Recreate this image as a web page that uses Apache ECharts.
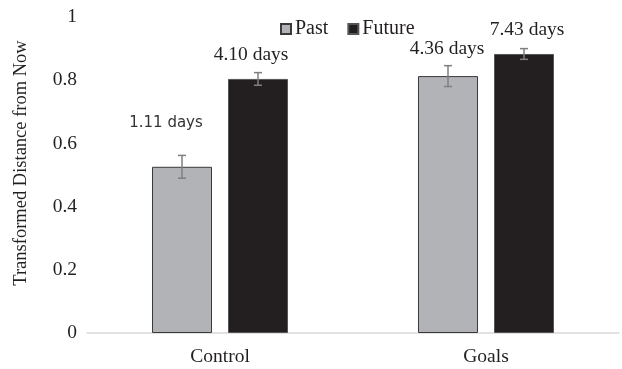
<!DOCTYPE html>
<html>
<head>
<meta charset="utf-8">
<script src="https://cdn.jsdelivr.net/npm/echarts@6/dist/echarts.min.js"></script>
<style>
  html, body { margin: 0; background: #fff; }
  #chart { width: 622px; height: 369px; }
</style>
</head>
<body>
<div id="chart"></div>
<script>
// data
const categories = ['Control', 'Goals']
const pastMeans = [0.526, 0.813]
const futureMeans = [0.804, 0.883]
const pastErrors = [0.036, 0.033]
const futureErrors = [0.020, 0.017]
const pastLabels = ['1.11 days', '4.36 days']
const futureLabels = ['4.10 days', '7.43 days']
const yTicks = [0, 0.2, 0.4, 0.6, 0.8, 1]

const serif = "'Liberation Serif', 'Times New Roman', serif"
const textColor = '#231f20'
const BAR_WIDTH = 60
const BAR_GAP_PX = 16

// per-label nudges so the value texts sit where the original has them
const pastLabelStyle = [
  { distance: 36, offset: [-16, 0], fontFamily: "'DejaVu Sans', sans-serif", fontSize: 15, color: '#333' },
  { distance: 17, offset: [-1, 0] },
]
const futureLabelStyle = [
  { distance: 14, offset: [-7, 0] },
  { distance: 14, offset: [3, 0] },
]

function barSeries(name, means, labels, labelStyles, color, border) {
  return {
    name,
    type: 'bar',
    barWidth: BAR_WIDTH,
    barGap: (BAR_GAP_PX / BAR_WIDTH * 100) + '%',
    itemStyle: { color, borderColor: border, borderWidth: 1 },
    label: { show: true, position: 'top', color: textColor, fontFamily: serif, fontSize: 19.5 },
    data: means.map((v, i) => ({
      value: v,
      label: { formatter: labels[i], ...labelStyles[i] },
    })),
  }
}

function errorSeries(means, errors, side) {
  return {
    type: 'custom',
    silent: true,
    z: 5,
    encode: { x: 0, y: [1, 2] },
    data: means.map((m, i) => [i, m - errors[i], m + errors[i]]),
    renderItem(params, api) {
      const shift = side * (BAR_WIDTH + BAR_GAP_PX) / 2
      const lo = api.coord([api.value(0), api.value(1)])
      const hi = api.coord([api.value(0), api.value(2)])
      const x = lo[0] + shift
      const cap = 4
      const style = { stroke: '#7f7f7f', lineWidth: 1.5 }
      return {
        type: 'group',
        children: [
          { type: 'line', shape: { x1: x, y1: lo[1], x2: x, y2: hi[1] }, style },
          { type: 'line', shape: { x1: x - cap, y1: lo[1], x2: x + cap, y2: lo[1] }, style },
          { type: 'line', shape: { x1: x - cap, y1: hi[1], x2: x + cap, y2: hi[1] }, style },
        ],
      }
    },
  }
}

const chart = echarts.init(document.getElementById('chart'))
chart.setOption({
  animation: false,
  backgroundColor: '#fff',
  textStyle: { fontFamily: serif },
  grid: { left: 87, right: 3, top: 17, bottom: 36 },
  legend: {
    data: ['Past', 'Future'],
    left: 275,
    top: 14,
    icon: 'rect',
    itemWidth: 10,
    itemHeight: 10,
    itemGap: 19,
    textStyle: { color: textColor, fontFamily: serif, fontSize: 20, padding: [0, 0, 0, -1] },
  },
  xAxis: {
    type: 'category',
    data: categories,
    axisLine: { lineStyle: { color: '#d9d9d9', width: 1.5 } },
    axisTick: { show: false },
    axisLabel: { color: textColor, fontFamily: serif, fontSize: 19.5, margin: 14 },
  },
  yAxis: {
    type: 'value',
    min: yTicks[0],
    max: yTicks[yTicks.length - 1],
    interval: yTicks[1] - yTicks[0],
    name: 'Transformed Distance from Now',
    nameLocation: 'middle',
    nameGap: 56,
    nameTextStyle: { color: textColor, fontFamily: serif, fontSize: 18.5, padding: [0, 0, 0, 24] },
    axisLine: { show: false },
    axisTick: { show: false },
    splitLine: { show: false },
    axisLabel: { color: textColor, fontFamily: serif, fontSize: 19.5, margin: 10 },
  },
  series: [
    barSeries('Past', pastMeans, pastLabels, pastLabelStyle, '#b2b3b7', '#3a3a3a'),
    barSeries('Future', futureMeans, futureLabels, futureLabelStyle, '#231f20', '#555'),
    errorSeries(pastMeans, pastErrors, -1),
    errorSeries(futureMeans, futureErrors, 1),
  ],
})
</script>
</body>
</html>
